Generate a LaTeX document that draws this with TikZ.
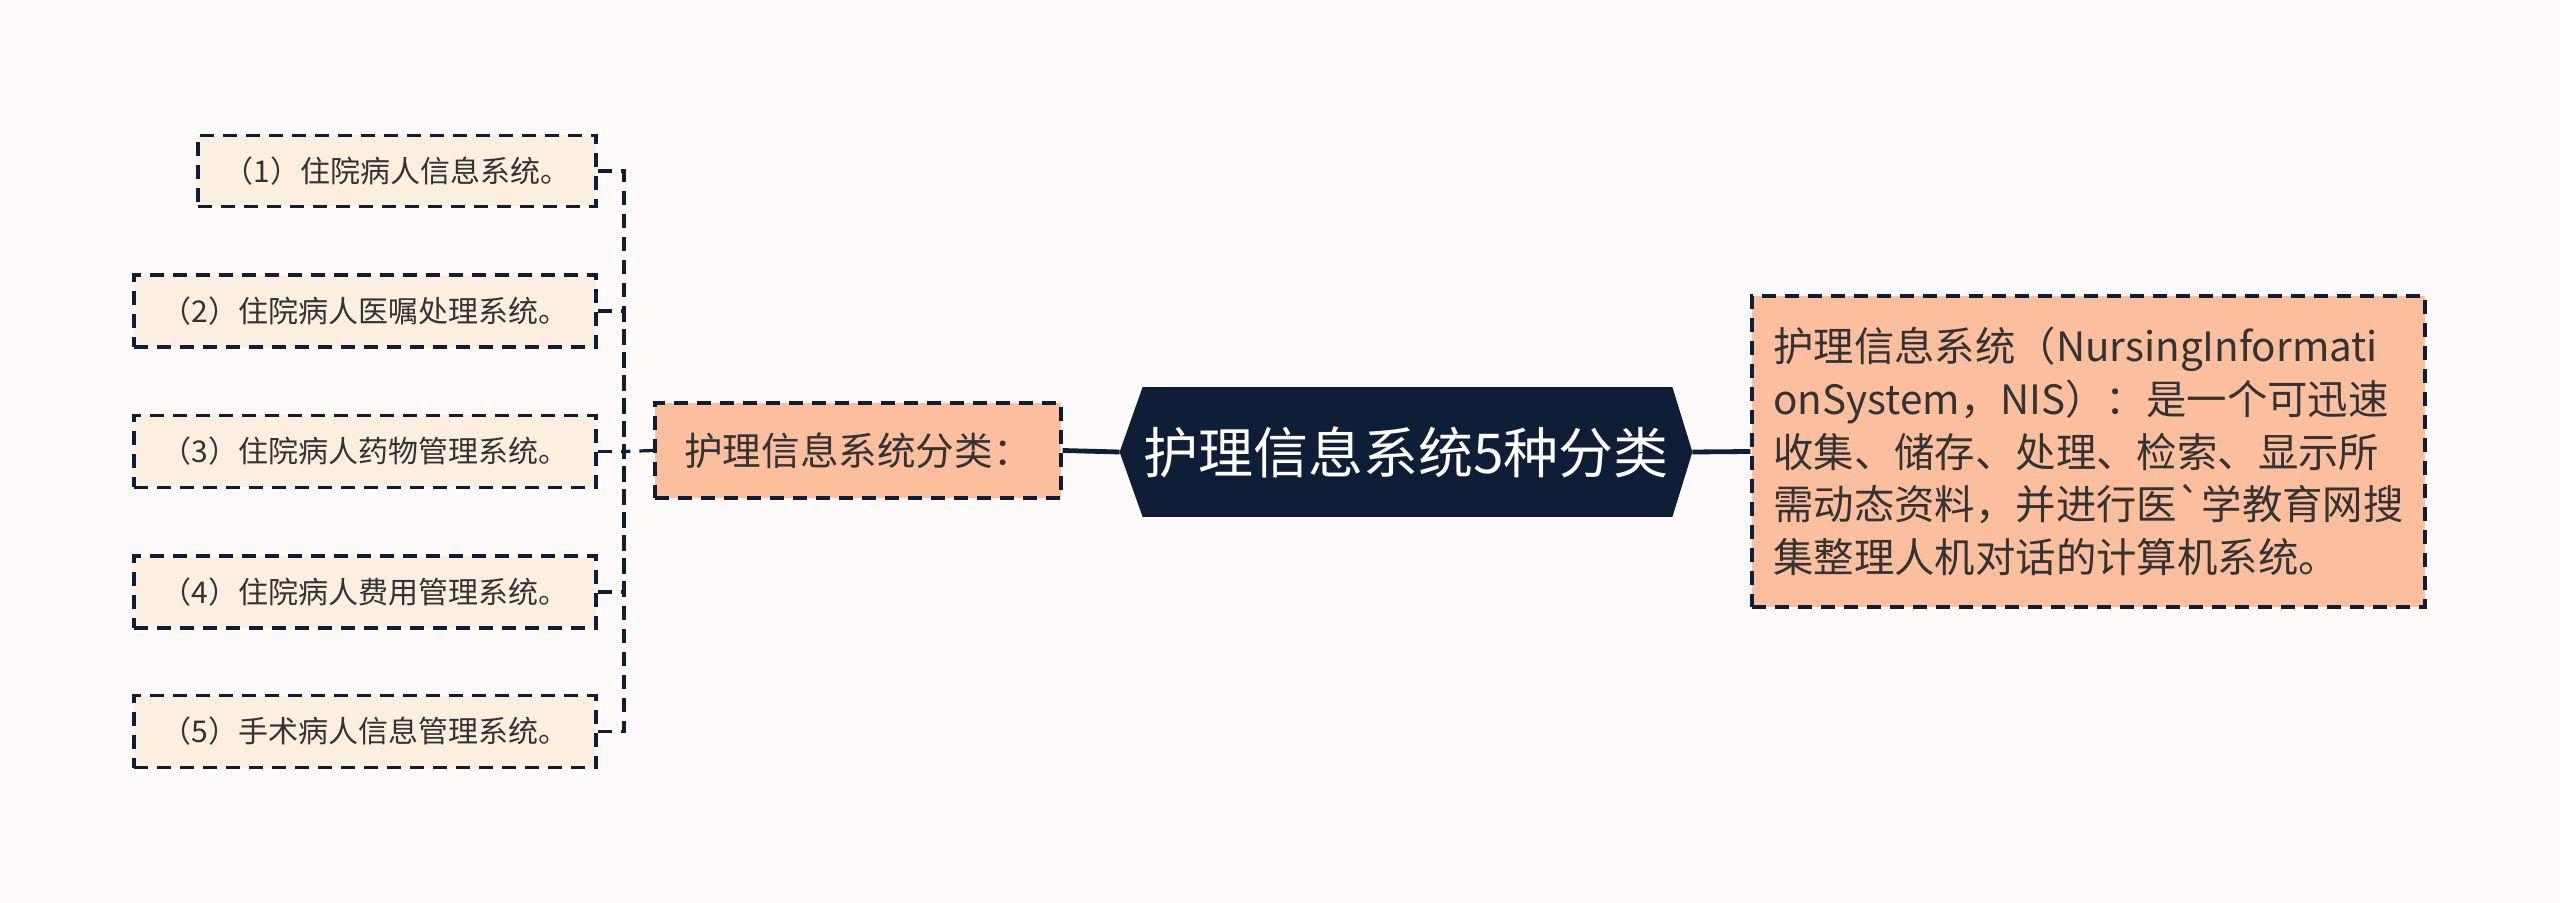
\documentclass[tikz,border=0pt]{standalone}
\usepackage{fontspec}
\setmainfont{Noto Sans CJK SC}
\usepackage{tikz}
\usetikzlibrary{calc, positioning, shapes}

\definecolor{bgpaper}{HTML}{FDFAF9}
\definecolor{navy}{HTML}{0E1E37}
\definecolor{peach}{HTML}{FCBF9E}
\definecolor{cream}{HTML}{FDEFDF}
\definecolor{inkgrey}{HTML}{333333}

\begin{document}
\begin{tikzpicture}[x=0.5pt, y=-0.5pt,
  leafbox/.style={draw=navy, line width=1.6pt, dash pattern=on 7pt off 4.5pt, fill=cream,
    text=inkgrey, font=\fontsize{15}{18}\selectfont, minimum height=36pt, inner sep=0pt},
  peachbox/.style={draw=navy, line width=1.6pt, dash pattern=on 7pt off 4.5pt, fill=peach,
    text=inkgrey, inner sep=0pt},
  link/.style={draw=navy, line width=1.6pt, dash pattern=on 7pt off 4.5pt},
  trunk/.style={draw=navy, line width=2.4pt}]
\fill[bgpaper] (0,0) rectangle (2560,903);
\useasboundingbox (0,0) rectangle (2560,903);
%root
\node[minimum width=286pt, minimum height=64.5pt, inner sep=0pt] (root) at (1406,452) {};
\fill[navy] (root.west) -- ($(root.north west)+(23,0)$) -- ($(root.north east)+(-20,0)$)
  -- (root.east) -- ($(root.south east)+(-20,0)$) -- ($(root.south west)+(23,0)$) -- cycle;
\node[text=white, font=\fontsize{27.5}{32}\selectfont] at (root) {护理信息系统5种分类};
%right
\node[peachbox, minimum width=336.5pt, minimum height=155.5pt, align=left,
  font=\fontsize{20.2}{26.3}\selectfont] (desc) at (2088.5,451.5)
  {护理信息系统（NursingInformati\\onSystem，NIS）：是一个可迅速\\收集、储存、处理、检索、显示所\\需动态资料，并进行医\textasciigrave 学教育网搜\\集整理人机对话的计算机系统。};
%left
\node[peachbox, minimum width=203pt, minimum height=47.5pt,
  font=\fontsize{19.3}{22}\selectfont] (cat) at (858,450.5) {护理信息系统分类：};
\node[leafbox, minimum width=199pt, minimum height=35.5pt] (l1) at (397,171) {（1）住院病人信息系统。};
\node[leafbox, minimum width=231pt] (l2) at (365,311) {（2）住院病人医嘱处理系统。};
\node[leafbox, minimum width=231pt] (l3) at (365,451.5) {（3）住院病人药物管理系统。};
\node[leafbox, minimum width=231pt] (l4) at (365,592) {（4）住院病人费用管理系统。};
\node[leafbox, minimum width=231pt] (l5) at (365,731.5) {（5）手术病人信息管理系统。};
\coordinate (jn) at (624,451.5);
\foreach \n in {l1,l2,l3,l4,l5}
  \draw[link] (\n.east) -| (jn);
\draw[link] (cat.west) -- (jn);
\draw[trunk] (root.west) -- (cat.east);
\draw[trunk] (root.east) -- (desc.west);
\end{tikzpicture}
\end{document}
